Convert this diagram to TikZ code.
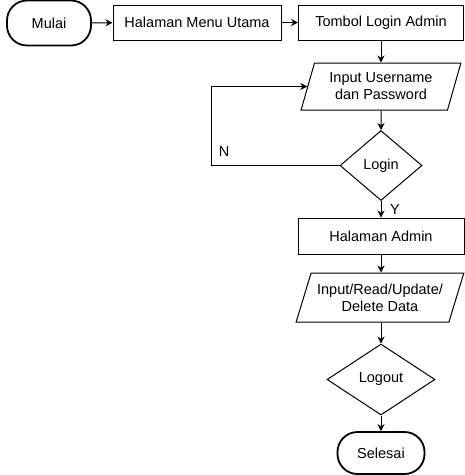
\documentclass[tikz,border=0pt]{standalone}
\usepackage{fontspec}
\setmainfont{Liberation Sans}
\usetikzlibrary{shapes.geometric,arrows.meta}
\begin{document}
\begin{tikzpicture}[x=1pt,y=-1pt,
  every node/.style={font=\fontsize{14.5}{17}\selectfont, inner sep=1pt, align=center},
  terminal/.style={draw, line width=1.8pt, rounded corners=20pt},
  process/.style={draw, line width=1pt},
  io/.style={trapezium, trapezium stretches=true, draw, line width=1pt},
  decision/.style={diamond, draw, line width=1pt},
  flow/.style={-{Stealth[length=7pt,width=7pt]}, line width=1pt},
  lbl/.style={inner sep=0pt}]
\useasboundingbox (0,0) rectangle (465,475);

% top row
\node[terminal, minimum width=84pt, minimum height=45pt] (mulai) at (49,23) {Mulai};
\node[process, minimum width=168pt, minimum height=35pt] (menu) at (197,22.5) {Halaman Menu Utama};
\node[process, minimum width=165pt, minimum height=35pt] (tombol) at (381,22.5) {Tombol Login Admin};

% login loop
\node[io, trapezium left angle=70, trapezium right angle=110,
      minimum width=160pt, minimum height=47pt] (input) at (381,86.5) {Input Username\\dan Password};
\node[decision, minimum width=82pt, minimum height=70pt] (login) at (381,165.5) {Login};

% admin section
\node[process, minimum width=166pt, minimum height=36pt] (admin) at (381,236) {Halaman Admin};
\node[io, trapezium left angle=65, trapezium right angle=115,
      minimum width=168pt, minimum height=49pt] (crud) at (380,297.5) {Input/Read/Update/\\Delete Data};
\node[decision, minimum width=108pt, minimum height=71pt] (logout) at (381,379.5) {Logout};
\node[terminal, minimum width=87pt, minimum height=42pt] (selesai) at (381,453) {Selesai};

% branch labels
\node[lbl] (nlab) at (224,152) {N};
\node[lbl] (ylab) at (395,210) {Y};

% connectors
\draw[flow] (mulai) -- (menu);
\draw[flow] (menu) -- (tombol);
\draw[flow] (tombol) -- (input);
\draw[flow] (input) -- (login);
\draw[flow] (login.west) -- ++(-128,0) |- (input.west);
\draw[flow] (login) -- (admin);
\draw[flow] (admin) -- (admin |- crud.north);
\draw[flow] (admin |- crud.south) -- (logout);
\draw[flow] (logout) -- (selesai);
\end{tikzpicture}
\end{document}
